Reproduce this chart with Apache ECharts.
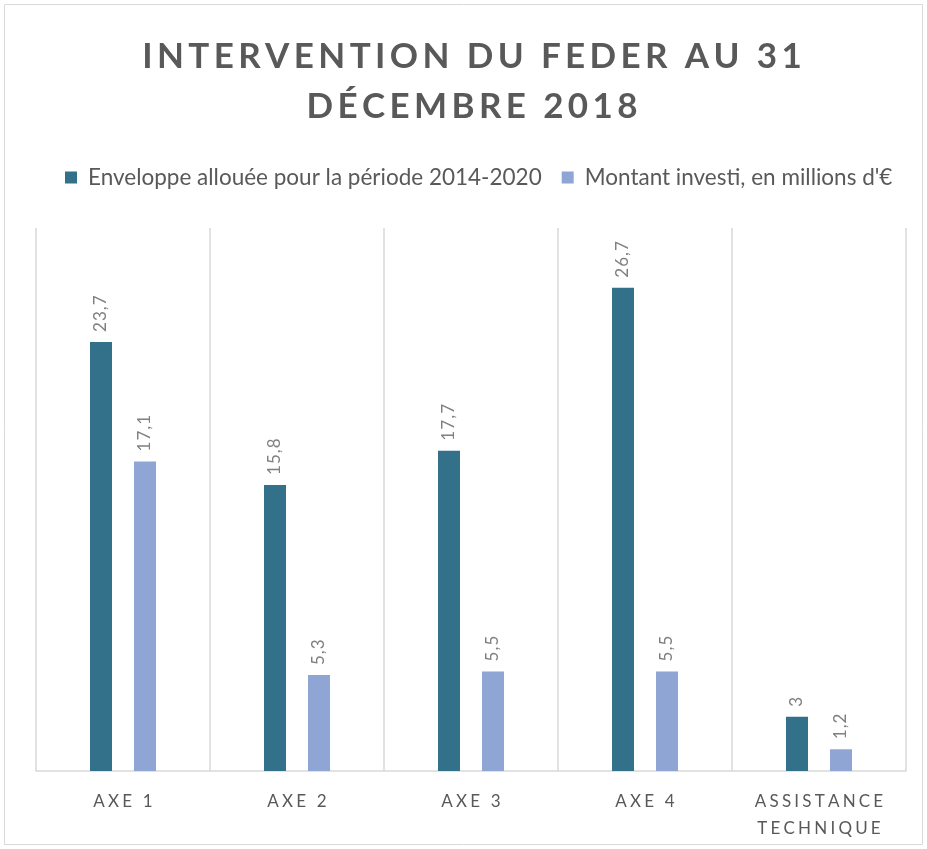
<!DOCTYPE html>
<html>
<head>
<meta charset="utf-8">
<script src="https://cdn.jsdelivr.net/npm/echarts@6/dist/echarts.min.js"></script>
<style>
  html, body { margin: 0; padding: 0; background: #fff; }
  #chart { width: 927px; height: 849px; }
</style>
</head>
<body>
<div id="chart"></div>
<script>
// axes du programme
const categories = ['AXE 1', 'AXE 2', 'AXE 3', 'AXE 4', 'ASSISTANCE\nTECHNIQUE']
const seriesNames = ['Enveloppe allouée pour la période 2014-2020', 'Montant investi, en millions d\'€']
const enveloppe = [23.7, 15.8, 17.7, 26.7, 3]
const investi = [17.1, 5.3, 5.5, 5.5, 1.2]

// espacement des lettres (comme dans le graphique Excel)
const spaced = (s, sep) => s.split('\n').map(l => l.split('').join(sep)).join('\n')

const chart = echarts.init(document.getElementById('chart'))

const labelOpt = {
  show: true,
  position: 'top',
  rotate: 90,
  align: 'left',
  verticalAlign: 'middle',
  distance: 10,
  color: '#808080',
  fontSize: 17,
  fontFamily: 'Lato',
  formatter: p => spaced(String(p.value).replace('.', ','), '\u200A')
}

const option = {
  animation: false,
  backgroundColor: '#fff',
  title: {
    text: spaced('INTERVENTION DU FEDER AU 31\nDÉCEMBRE 2018', '\u2009'),
    left: 467,
    textAlign: 'center',
    top: 27,
    textStyle: {
      color: '#595959',
      fontSize: 35,
      fontWeight: 'bold',
      fontFamily: 'Lato',
      lineHeight: 50
    }
  },
  legend: {
    top: 161,
    left: 60,
    itemWidth: 12,
    itemHeight: 12,
    itemGap: 20,
    icon: 'rect',
    textStyle: { color: '#595959', fontSize: 22.5, fontFamily: 'Lato', padding: [0, 0, 0, 6] },
    data: seriesNames
  },
  grid: { left: 36, right: 21, top: 228, bottom: 78 },
  xAxis: {
    type: 'category',
    data: categories,
    axisLine: { lineStyle: { color: '#d9d9d9', width: 1.5 } },
    axisTick: { show: false },
    splitLine: { show: true, lineStyle: { color: '#d9d9d9', width: 1.5 } },
    axisLabel: {
      color: '#595959',
      fontSize: 17,
      fontFamily: 'Lato',
      margin: 17,
      lineHeight: 27,
      formatter: v => spaced(v, '\u2009\u200A')
    }
  },
  yAxis: {
    type: 'value',
    min: 0,
    max: 30,
    show: false,
    splitLine: { show: false }
  },
  series: [
    {
      name: seriesNames[0],
      type: 'bar',
      data: enveloppe,
      barWidth: 22,
      barGap: '100%',
      itemStyle: { color: '#327189' },
      label: labelOpt
    },
    {
      name: seriesNames[1],
      type: 'bar',
      data: investi,
      barWidth: 22,
      itemStyle: { color: '#8fa5d4' },
      label: labelOpt
    }
  ],
  graphic: [
    {
      type: 'rect',
      shape: { x: 4.5, y: 4.5, width: 918, height: 840 },
      style: { fill: 'none', stroke: '#d9d9d9', lineWidth: 1 },
      silent: true
    }
  ]
}

chart.setOption(option)
</script>
</body>
</html>
